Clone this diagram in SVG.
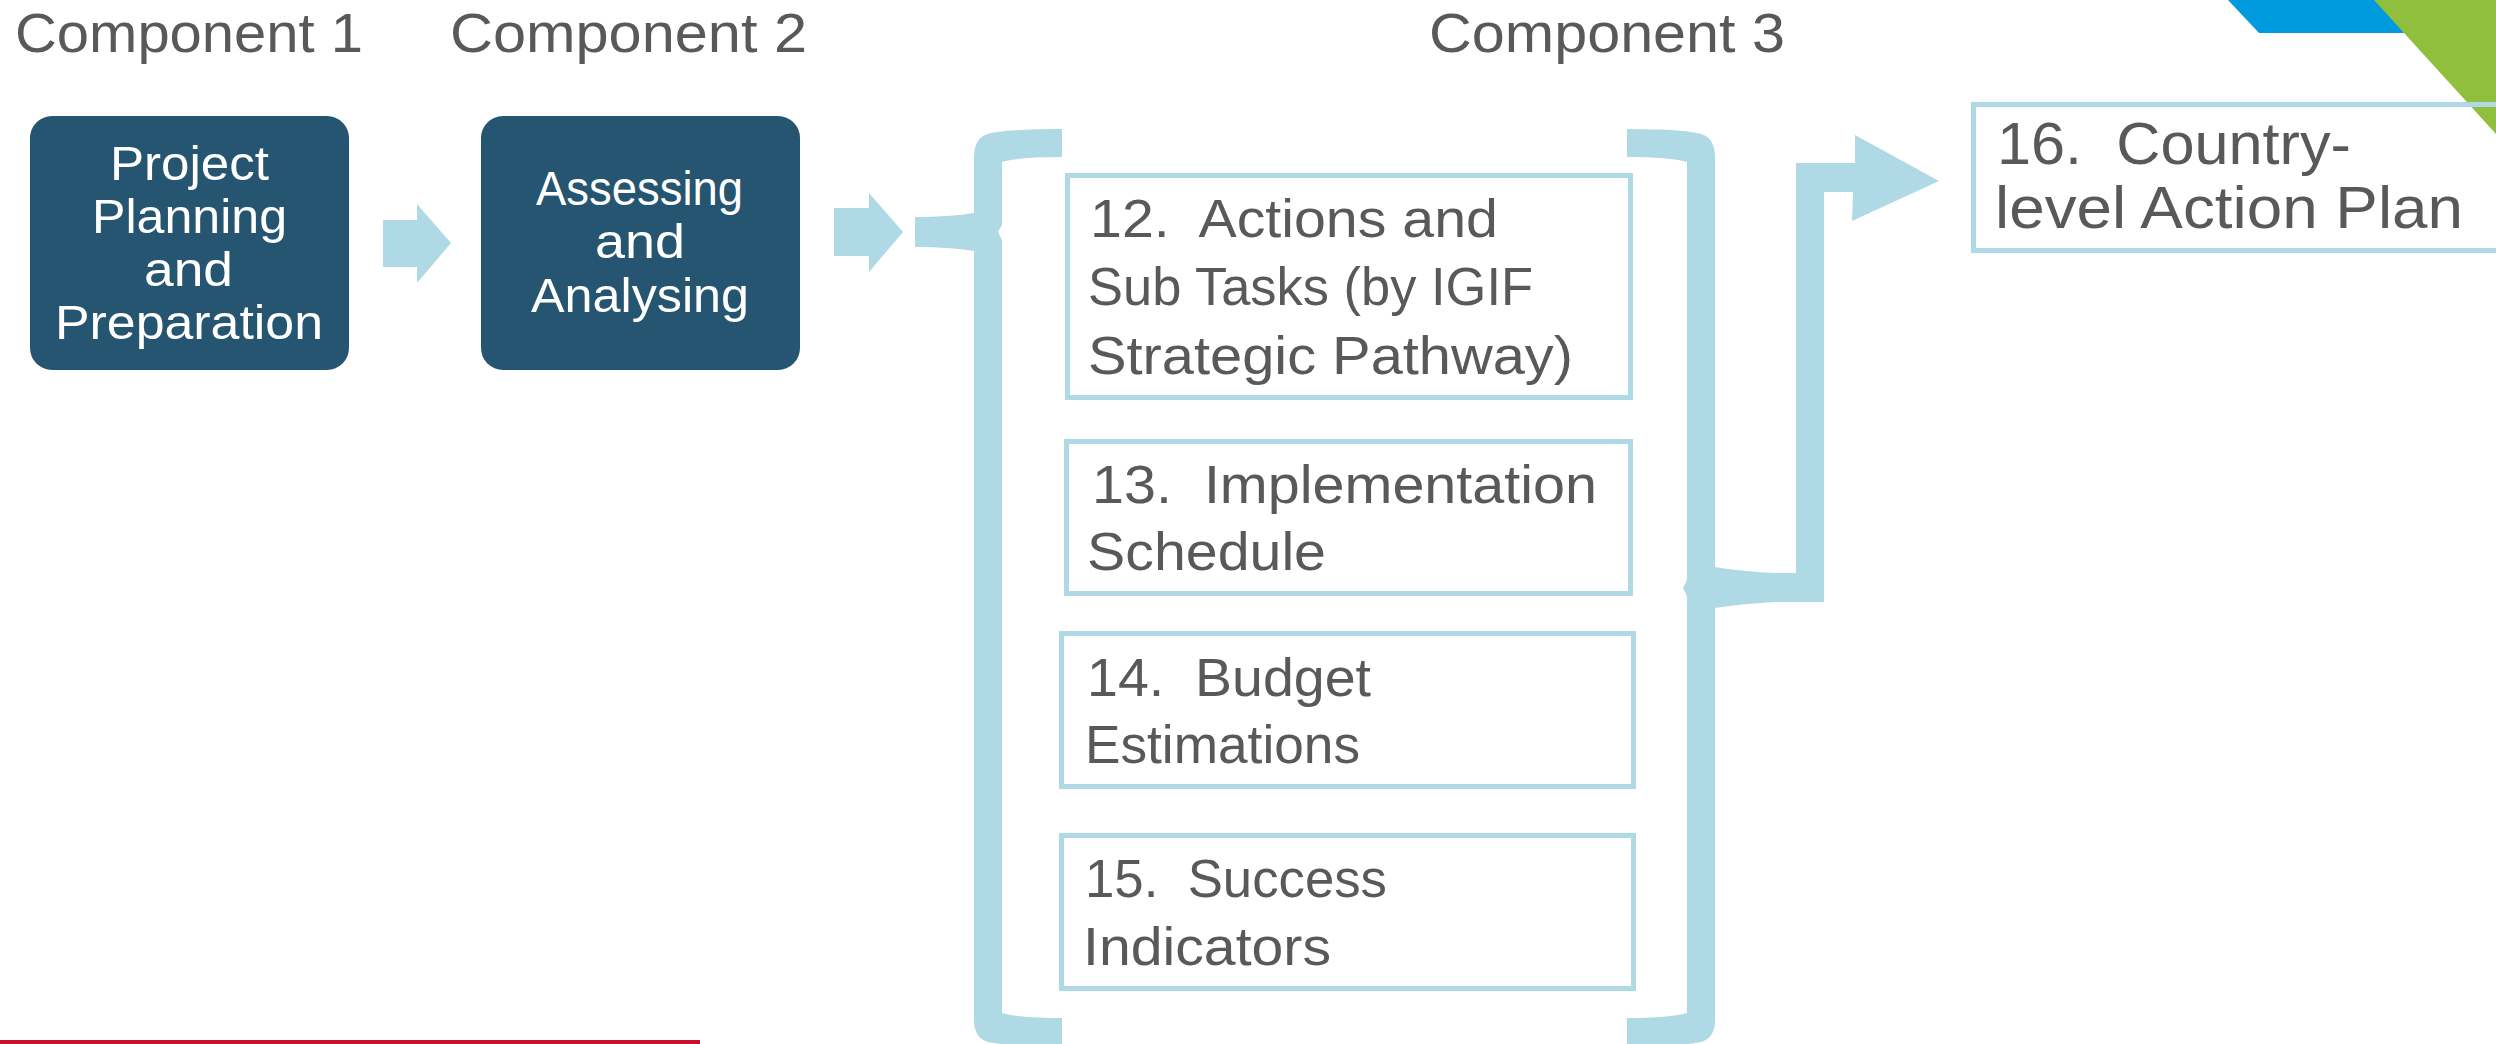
<svg xmlns="http://www.w3.org/2000/svg" width="2496" height="1044" viewBox="0 0 2496 1044">
<style>
.bg{fill:#ffffff}
.dark{fill:#255570}
.lb{fill:#AFD9E5}
.box{fill:#ffffff;stroke:#AFD9E5;stroke-width:5}
.box16{fill:none;stroke:#AFD9E5;stroke-width:5}
text{font-family:"Liberation Sans",Arial,sans-serif;white-space:pre}
.g{fill:#595959}
.w{fill:#ffffff;font-size:48px}
.c{font-size:56px}
.s{font-size:53px}
.b{font-size:59px}
</style>
<rect class="bg" x="0" y="0" width="2496" height="1044"/>

<g id="decoration">
  <polygon points="2228,0 2430,0 2430,33 2259,33" fill="#009ADE"/>
  <polygon points="2374,0 2496,0 2496,134" fill="#8FBF3D"/>
  <rect x="0" y="1040" width="700" height="4" fill="#C8102E"/>
</g>

<g id="labels">
  <text class="g c" x="15" y="52" textLength="348" lengthAdjust="spacingAndGlyphs">Component 1</text>
  <text class="g c" x="450" y="52" textLength="357" lengthAdjust="spacingAndGlyphs">Component 2</text>
  <text class="g c" x="1429" y="52" textLength="356" lengthAdjust="spacingAndGlyphs">Component 3</text>
</g>

<g id="node-1">
  <rect class="dark" x="30" y="116" width="319" height="254" rx="22"/>
  <text class="w" x="110" y="180" textLength="159" lengthAdjust="spacingAndGlyphs">Project</text>
  <text class="w" x="92" y="233" textLength="195" lengthAdjust="spacingAndGlyphs">Planning</text>
  <text class="w" x="144" y="286" textLength="89" lengthAdjust="spacingAndGlyphs">and</text>
  <text class="w" x="55" y="339" textLength="268" lengthAdjust="spacingAndGlyphs">Preparation</text>
</g>

<g id="node-2">
  <rect class="dark" x="481" y="116" width="319" height="254" rx="22"/>
  <text class="w" x="536" y="205" textLength="207" lengthAdjust="spacingAndGlyphs">Assessing</text>
  <text class="w" x="595" y="258" textLength="90" lengthAdjust="spacingAndGlyphs">and</text>
  <text class="w" x="531" y="312" textLength="218" lengthAdjust="spacingAndGlyphs">Analysing</text>
</g>

<g id="brace-left">
  <path class="lb" d="M1062,129 Q1000,129 985,135 Q974,140 974,158 L974,213 Q950,217 915,217 L915,247 Q950,247 974,251 L974,1020 Q974,1036 985,1041 Q1000,1046 1062,1046 L1062,1018 Q1020,1018 1002,1013 L1002,240 L998,232 L1002,225 L1002,162 Q1020,157 1062,157 Z"/>
</g>

<g id="brace-right">
  <path class="lb" d="M1627,129 Q1689,129 1704,135 Q1715,140 1715,158 L1715,567 Q1739,571 1774,573 L1774,602 Q1739,604 1715,608 L1715,1020 Q1715,1036 1704,1041 Q1689,1046 1627,1046 L1627,1018 Q1669,1018 1687,1013 L1687,596 L1683,588 L1687,580 L1687,162 Q1669,157 1627,157 Z"/>
</g>

<g id="node-12">
  <rect class="box" x="1067.5" y="175.5" width="563" height="222"/>
  <text class="g s" x="1090" y="237" textLength="408" lengthAdjust="spacingAndGlyphs">12.  Actions and</text>
  <text class="g s" x="1088" y="305" textLength="445" lengthAdjust="spacingAndGlyphs">Sub Tasks (by IGIF</text>
  <text class="g s" x="1088" y="374" textLength="485" lengthAdjust="spacingAndGlyphs">Strategic Pathway)</text>
</g>

<g id="node-13">
  <rect class="box" x="1066.5" y="441.5" width="564" height="152"/>
  <text class="g s" x="1092" y="503" textLength="505" lengthAdjust="spacingAndGlyphs">13.  Implementation</text>
  <text class="g s" x="1087" y="570" textLength="239" lengthAdjust="spacingAndGlyphs">Schedule</text>
</g>

<g id="node-14">
  <rect class="box" x="1061.5" y="633.5" width="572" height="153"/>
  <text class="g s" x="1087" y="696" textLength="284" lengthAdjust="spacingAndGlyphs">14.  Budget</text>
  <text class="g s" x="1085" y="763" textLength="275" lengthAdjust="spacingAndGlyphs">Estimations</text>
</g>

<g id="node-15">
  <rect class="box" x="1061.5" y="835.5" width="572" height="153"/>
  <text class="g s" x="1085" y="897" textLength="302" lengthAdjust="spacingAndGlyphs">15.  Success</text>
  <text class="g s" x="1083" y="965" textLength="248" lengthAdjust="spacingAndGlyphs">Indicators</text>
</g>

<g id="node-16">
  <rect class="box16" x="1973.5" y="104.5" width="600" height="146"/>
  <text class="g b" x="1997" y="164" textLength="354" lengthAdjust="spacingAndGlyphs">16.  Country-</text>
  <text class="g b" x="1995" y="228" textLength="468" lengthAdjust="spacingAndGlyphs">level Action Plan</text>
</g>

<g id="connectors">
  <polygon class="lb" points="383,220 417,220 417,204 451,243 417,283 417,267 383,267"/>
  <polygon class="lb" points="834,208 869,208 869,193 903,232 869,272 869,256 834,256"/>
  <polygon class="lb" points="1774,573 1796,573 1796,163 1855,163 1855,135 1939,181 1852,221 1853,192 1824,192 1824,602 1774,602"/>
</g>
</svg>
